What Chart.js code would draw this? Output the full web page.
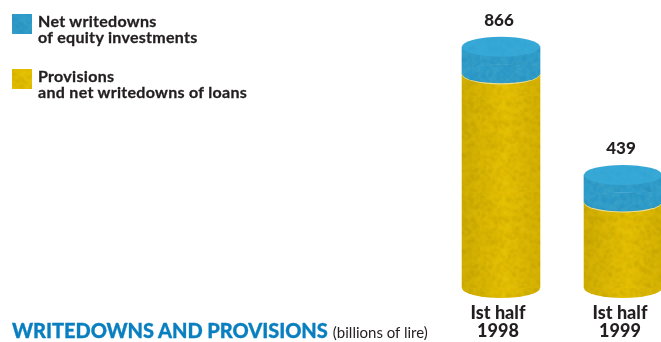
<!DOCTYPE html>
<html>
<head>
<meta charset="utf-8">
<title>Writedowns and provisions</title>
<script src="https://cdn.jsdelivr.net/npm/chart.js@4"></script>
<style>
  html, body { margin: 0; padding: 0; background: #fff; overflow: hidden; }
  #wrap { position: relative; width: 661px; height: 342px; overflow: hidden; font-family: Lato, sans-serif; color: #231f20; }
  #chart { position: absolute; left: 0; top: 0; }
  .swatch { position: absolute; left: 12px; width: 20px; height: 20px; }
  .key { position: absolute; left: 38px; font-weight: 700; font-size: 16px; line-height: 16px; letter-spacing: 0.3px; white-space: pre; -webkit-text-stroke: 0.3px #231f20; }
  #title { position: absolute; left: 12px; top: 318px; white-space: nowrap; line-height: 24px; }
  #title b { color: #0a7fc0; font-size: 20px; font-weight: 900; letter-spacing: -0.05px; -webkit-text-stroke: 0.3px #0a7fc0; }
  #title span { font-size: 15px; margin-left: 1px; }
</style>
</head>
<body>
<div id="wrap">
  <canvas id="chart" width="684" height="342"></canvas>
  <div id="title"><b>WRITEDOWNS AND PROVISIONS</b> <span>(billions of lire)</span></div>
</div>
<script>
const categories = [['Ist half', '1998'], ['Ist half', '1999']];
const totals = [866, 439];
const equityWritedowns = [90, 90];
const loanProvisions = [776, 349];
const seriesNames = ['Net writedowns\nof equity investments', 'Provisions\nand net writedowns of loans'];

const BLUE = '#2f9ecd', BLUE_TOP = '#37a9d8', YELLOW = '#e6c000';
const CAP_RY = 10;

// grainy fill, a fixed hash so every render gives the same texture
function grain(base, dark, strength) {
  const c = document.createElement('canvas');
  c.width = c.height = 96;
  const g = c.getContext('2d');
  g.fillStyle = base;
  g.fillRect(0, 0, 96, 96);
  g.filter = 'blur(1px)';
  for (let y = 0; y < 48; y++) {
    for (let x = 0; x < 48; x++) {
      const h = Math.sin(x * 12.9898 + y * 78.233) * 43758.5453;
      const n = h - Math.floor(h);
      g.fillStyle = n < 0.5 ? 'rgba(' + dark + ',' + (0.5 - n) * strength + ')' : 'rgba(255,240,150,' + (n - 0.5) * strength * 0.6 + ')';
      g.fillRect(x * 2, y * 2, 2, 2);
    }
  }
  return g.createPattern(c, 'repeat');
}

const ctx = document.getElementById('chart').getContext('2d');
const yellowFill = grain(YELLOW, '110,95,0', 0.4);
const blueFill = grain(BLUE, '10,70,110', 0.3);
const blueTopFill = grain(BLUE_TOP, '10,70,110', 0.1);

function ellipse(c, x, y, rx, ry, fill) {
  c.fillStyle = fill;
  c.beginPath();
  c.ellipse(x, y, rx, ry, 0, 0, Math.PI * 2);
  c.fill();
}

// ellipses on top of the library's bars turn them into cylinders
const cylinders = {
  id: 'cylinders',
  beforeDatasetsDraw(chart) {
    chart.getDatasetMeta(0).data.forEach(bar => {
      ellipse(chart.ctx, bar.x, chart.chartArea.bottom, bar.width / 2, CAP_RY, yellowFill);
    });
  },
  afterDatasetsDraw(chart) {
    const c = chart.ctx;
    const floor = chart.chartArea.bottom;
    chart.getDatasetMeta(1).data.forEach((bar, i) => {
      const rx = bar.width / 2;
      // side shading on the lower part
      const shade = c.createLinearGradient(bar.x - rx, 0, bar.x + rx, 0);
      shade.addColorStop(0, 'rgba(120,100,0,0.2)');
      shade.addColorStop(0.55, 'rgba(120,100,0,0)');
      shade.addColorStop(1, 'rgba(120,100,0,0.16)');
      c.save();
      c.fillStyle = shade;
      c.fillRect(bar.x - rx, bar.base, bar.width, floor - bar.base);
      c.beginPath();
      c.ellipse(bar.x, floor, rx, CAP_RY, 0, 0, Math.PI);
      c.fill();
      c.restore();

      ellipse(c, bar.x, bar.base + 0.7, rx, CAP_RY, 'rgba(255,255,255,0.55)');
      ellipse(c, bar.x, bar.base, rx, CAP_RY - 0.5, blueFill);
      ellipse(c, bar.x, bar.y, rx, CAP_RY, blueTopFill);

      c.font = '900 17px Lato';
      c.fillStyle = '#231f20';
      c.textAlign = 'center';
      c.textBaseline = 'middle';
      c.fillText(String(totals[i]), bar.x - 2, bar.y - 26);
    });
  }
};

new Chart(ctx, {
  type: 'bar',
  data: {
    labels: categories,
    datasets: [
      { label: seriesNames[1], data: loanProvisions, backgroundColor: yellowFill, barThickness: 78 },
      { label: seriesNames[0], data: equityWritedowns, backgroundColor: blueFill, barThickness: 78 }
    ]
  },
  options: {
    responsive: false,
    animation: false,
    layout: { padding: { left: 440 } },
    plugins: { legend: { display: false }, tooltip: { enabled: false } },
    scales: {
      x: {
        stacked: true,
        grid: { display: false, drawTicks: false },
        border: { display: false },
        afterFit(scale) { scale.height = 54; },
        ticks: {
          padding: 16,
          labelOffset: -3,
          maxRotation: 0,
          color: '#231f20',
          font: { family: 'Lato', weight: '900', size: 18, lineHeight: 1 }
        }
      },
      y: { stacked: true, display: false, min: 62, max: 1022 }
    }
  },
  plugins: [cylinders]
});

// key at the top left, built from the series names
const wrap = document.getElementById('wrap');
[[14, blueFill, seriesNames[0]], [69, yellowFill, seriesNames[1]]].forEach(([top, fill, name]) => {
  const box = document.createElement('canvas');
  box.className = 'swatch';
  box.width = box.height = 20;
  box.style.top = top + 'px';
  const g = box.getContext('2d');
  g.fillStyle = fill;
  g.fillRect(0, 0, 20, 20);
  wrap.appendChild(box);
  const text = document.createElement('div');
  text.className = 'key';
  text.style.top = top - 1 + 'px';
  text.textContent = name;
  wrap.appendChild(text);
});
</script>
</body>
</html>
